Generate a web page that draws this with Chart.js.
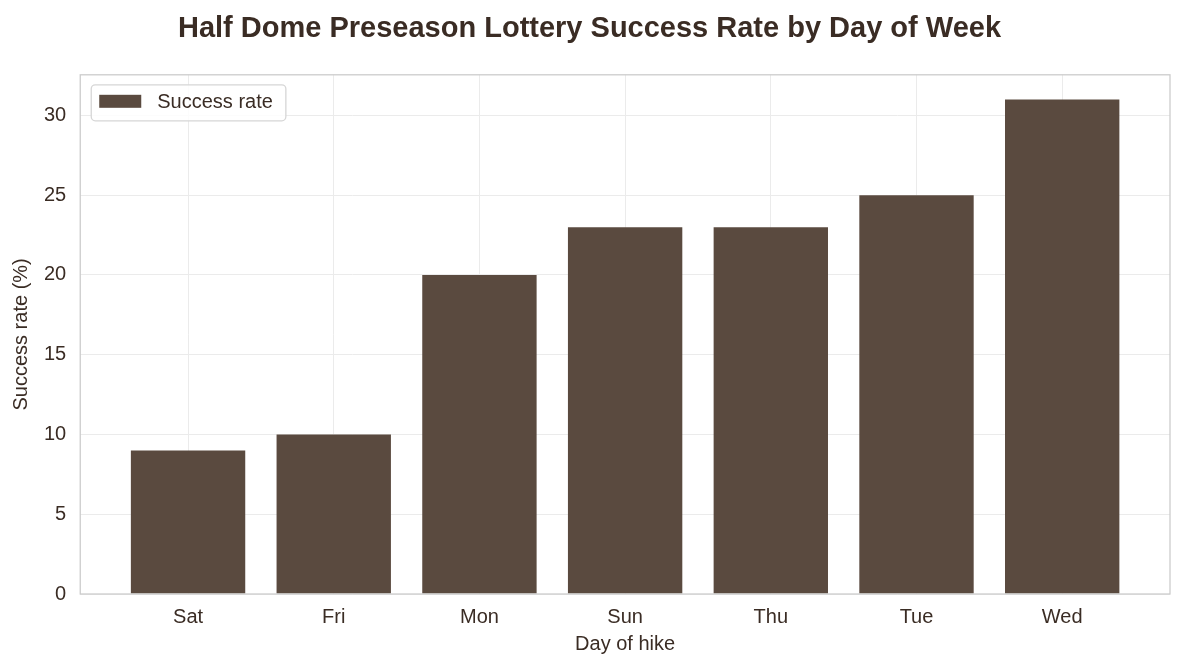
<!DOCTYPE html>
<html>
<head>
<meta charset="utf-8">
<script src="https://cdn.jsdelivr.net/npm/chart.js@4.4.1/dist/chart.umd.min.js"></script>
<style>
    html, body { margin: 0; padding: 0; background: #ffffff; }
    #chart-wrap { width: 1185px; height: 669px; }
</style>
</head>
<body>
<div id="chart-wrap"><canvas id="lottery-chart" width="1185" height="669"></canvas></div>
<script>
// data
const gDays = ['Sat', 'Fri', 'Mon', 'Sun', 'Thu', 'Tue', 'Wed'];
const gSuccessRate = [9, 10, 20, 23, 23, 25, 31];
const gYTicks = [0, 5, 10, 15, 20, 25, 30];

const gTextColor = '#3a2c24';
const gBarColor = '#5a4a3f';
const gFont = "'Liberation Sans', Arial, sans-serif";

// frame around the plot area (all four spines)
const framePlugin = {
    id: 'frame',
    afterDraw(chart) {
        let vCtx = chart.ctx;
        let vArea = chart.chartArea;
        vCtx.save();
        vCtx.strokeStyle = '#cccccc';
        vCtx.lineWidth = 1.3;
        vCtx.strokeRect(vArea.left, vArea.top, vArea.right - vArea.left, vArea.bottom - vArea.top);
        vCtx.restore();
    },
};

// legend inside the top left corner
const innerLegendPlugin = {
    id: 'innerLegend',
    afterDraw(chart) {
        let vCtx = chart.ctx;
        let vArea = chart.chartArea;
        let vDataset = chart.data.datasets[0];
        let vX = vArea.left + 11;
        let vY = vArea.top + 10;
        vCtx.save();
        vCtx.font = '20px ' + gFont;
        let vTextWidth = vCtx.measureText(vDataset.label).width;
        let vW = 66 + vTextWidth + 13;
        let vH = 36;
        vCtx.fillStyle = 'rgba(255,255,255,0.85)';
        vCtx.strokeStyle = '#d6d6d6';
        vCtx.lineWidth = 1.3;
        vCtx.beginPath();
        vCtx.roundRect(vX, vY, vW, vH, 4);
        vCtx.fill();
        vCtx.stroke();
        vCtx.fillStyle = vDataset.backgroundColor;
        vCtx.fillRect(vX + 8, vY + 10, 42, 13);
        vCtx.fillStyle = gTextColor;
        vCtx.textBaseline = 'middle';
        vCtx.fillText(vDataset.label, vX + 66, vY + vH / 2);
        vCtx.restore();
    },
};

let vCanvas = document.getElementById('lottery-chart');
new Chart(vCanvas.getContext('2d'), {
    type: 'bar',
    data: {
        datasets: [
            {
                label: 'Success rate',
                data: gSuccessRate.map((value, i) => ({ x: i, y: value })),
                backgroundColor: gBarColor,
                borderWidth: 0,
                barPercentage: 0.785,
                categoryPercentage: 1,
            },
        ],
    },
    options: {
        responsive: false,
        devicePixelRatio: 1,
        animation: false,
        layout: { padding: { left: 9, right: 15, top: 0, bottom: 13 } },
        plugins: {
            legend: { display: false },
            tooltip: { enabled: false },
            title: {
                display: true,
                text: 'Half Dome Preseason Lottery Success Rate by Day of Week',
                color: gTextColor,
                font: { family: gFont, size: 29, weight: 'bold' },
                padding: { top: 12, bottom: 28 },
            },
        },
        scales: {
            x: {
                type: 'linear',
                min: -0.74,
                max: 6.74,
                offset: false,
                afterBuildTicks: (axis) => {
                    axis.ticks = gDays.map((day, i) => ({ value: i }));
                },
                ticks: {
                    color: gTextColor,
                    font: { family: gFont, size: 20 },
                    padding: 11,
                    callback: (value) => gDays[value],
                },
                grid: { color: '#ebebeb', lineWidth: 1, drawTicks: false, offset: false },
                border: { display: false },
                title: {
                    display: true,
                    text: 'Day of hike',
                    color: gTextColor,
                    font: { family: gFont, size: 20 },
                    padding: { top: -8, bottom: 0 },
                },
            },
            y: {
                min: 0,
                max: 32.55,
                afterBuildTicks: (axis) => {
                    axis.ticks = gYTicks.map((value) => ({ value: value }));
                },
                ticks: {
                    color: gTextColor,
                    font: { family: gFont, size: 20 },
                    padding: 14,
                },
                grid: { color: '#ebebeb', lineWidth: 1, drawTicks: false },
                border: { display: false },
                title: {
                    display: true,
                    text: 'Success rate (%)',
                    color: gTextColor,
                    font: { family: gFont, size: 20 },
                    padding: { top: 0, bottom: -3 },
                },
            },
        },
    },
    plugins: [framePlugin, innerLegendPlugin],
});
</script>
</body>
</html>
